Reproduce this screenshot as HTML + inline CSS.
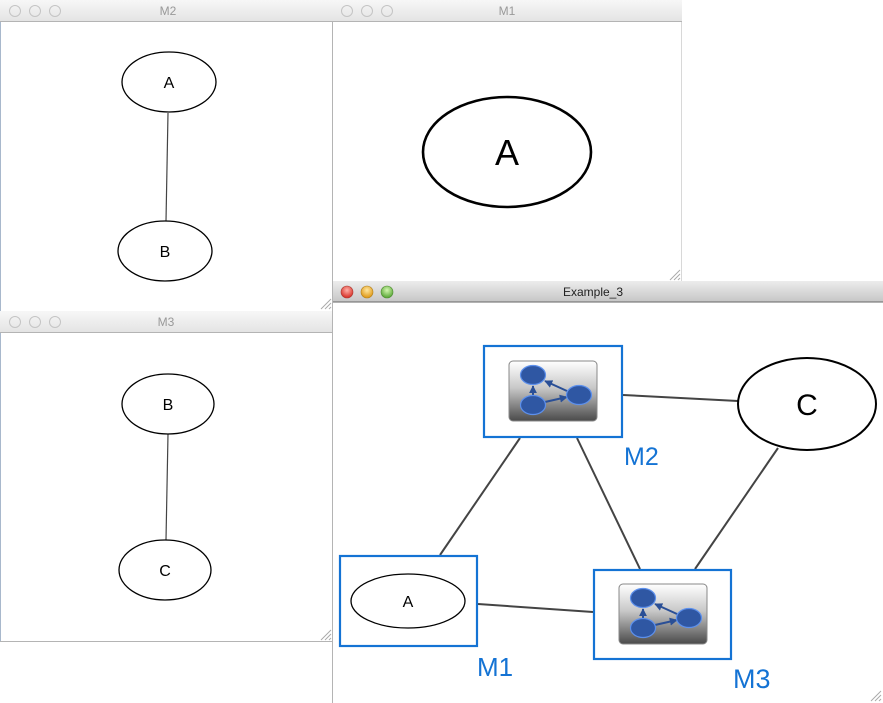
<!DOCTYPE html>
<html><head><meta charset="utf-8"><style>
html,body{margin:0;padding:0;background:#fff;}
svg{display:block;}
text{font-family:"Liberation Sans",sans-serif;}
</style></head><body>
<svg width="883" height="703" viewBox="0 0 883 703" xmlns="http://www.w3.org/2000/svg">
<defs>
<linearGradient id="tbi" x1="0" y1="0" x2="0" y2="1"><stop offset="0" stop-color="#f7f7f7"/><stop offset="1" stop-color="#e3e3e3"/></linearGradient>
<linearGradient id="tba" x1="0" y1="0" x2="0" y2="1"><stop offset="0" stop-color="#ececec"/><stop offset="1" stop-color="#c6c6c6"/></linearGradient>
<linearGradient id="ico" x1="0" y1="0" x2="0" y2="1"><stop offset="0" stop-color="#ffffff"/><stop offset="0.45" stop-color="#c8c8c8"/><stop offset="1" stop-color="#4a4a4a"/></linearGradient>
<radialGradient id="red" cx="0.5" cy="0.35" r="0.6"><stop offset="0" stop-color="#ffb0a8"/><stop offset="1" stop-color="#d8332a"/></radialGradient>
<radialGradient id="org" cx="0.5" cy="0.35" r="0.6"><stop offset="0" stop-color="#ffe7a0"/><stop offset="1" stop-color="#e09a1a"/></radialGradient>
<radialGradient id="grn" cx="0.5" cy="0.35" r="0.6"><stop offset="0" stop-color="#d4f7b0"/><stop offset="1" stop-color="#5ca93a"/></radialGradient>
<marker id="ah" viewBox="0 0 10 10" refX="9" refY="5" markerWidth="4" markerHeight="4" orient="auto"><path d="M0,0 L10,5 L0,10 z" fill="#2a4f96"/></marker>
<g id="icon">
<rect x="0" y="0" width="88" height="60" rx="4" fill="url(#ico)" stroke="#888" stroke-width="1"/>
<line x1="24" y1="34" x2="24" y2="25" stroke="#2a4f96" stroke-width="2" marker-end="url(#ah)"/>
<line x1="58" y1="30" x2="36" y2="20" stroke="#2a4f96" stroke-width="2" marker-end="url(#ah)"/>
<line x1="36" y1="41" x2="58" y2="36" stroke="#2a4f96" stroke-width="2" marker-end="url(#ah)"/>
<ellipse cx="24" cy="14" rx="12.5" ry="9.5" fill="#2f57a3" stroke="#5d90ec" stroke-width="1.2"/>
<ellipse cx="24" cy="44" rx="12.5" ry="9.5" fill="#2f57a3" stroke="#5d90ec" stroke-width="1.2"/>
<ellipse cx="70" cy="34" rx="12.5" ry="9.5" fill="#2f57a3" stroke="#5d90ec" stroke-width="1.2"/>
</g>
<g id="grip" stroke="#aaa" stroke-width="1">
<line x1="0" y1="10" x2="10" y2="0"/><line x1="4" y1="10" x2="10" y2="4"/><line x1="8" y1="10" x2="10" y2="8"/>
</g>
</defs>

<!-- M2 window -->
<rect x="0" y="0" width="333" height="22" fill="url(#tbi)"/>
<line x1="0" y1="21.5" x2="333" y2="21.5" stroke="#b4b4b4"/>
<g fill="none" stroke="#c4c4c4" stroke-width="1"><circle cx="15" cy="11" r="5.5"/><circle cx="35" cy="11" r="5.5"/><circle cx="55" cy="11" r="5.5"/></g>
<text x="168" y="15" font-size="12" fill="#999" text-anchor="middle">M2</text>
<line x1="332.5" y1="22" x2="332.5" y2="311" stroke="#b4b4b4"/>
<line x1="0.5" y1="22" x2="0.5" y2="311" stroke="#a8b8cc"/>
<use href="#grip" x="321" y="299"/>
<line x1="168" y1="113" x2="166" y2="221" stroke="#444" stroke-width="1.2"/>
<ellipse cx="169" cy="82" rx="47" ry="30" fill="#fff" stroke="#000" stroke-width="1.3"/>
<text x="169" y="88" font-size="16" text-anchor="middle">A</text>
<ellipse cx="165" cy="251" rx="47" ry="30" fill="#fff" stroke="#000" stroke-width="1.3"/>
<text x="165" y="257" font-size="16" text-anchor="middle">B</text>

<!-- M1 window -->
<rect x="333" y="0" width="349" height="22" fill="url(#tbi)"/>
<line x1="333" y1="21.5" x2="682" y2="21.5" stroke="#b4b4b4"/>
<g fill="none" stroke="#c4c4c4" stroke-width="1"><circle cx="347" cy="11" r="5.5"/><circle cx="367" cy="11" r="5.5"/><circle cx="387" cy="11" r="5.5"/></g>
<text x="507" y="15" font-size="12" fill="#999" text-anchor="middle">M1</text>
<line x1="681.5" y1="22" x2="681.5" y2="281" stroke="#d8d8d8"/>
<use href="#grip" x="670" y="270"/>
<ellipse cx="507" cy="152" rx="84" ry="55" fill="#fff" stroke="#000" stroke-width="2.6"/>
<text x="507" y="165" font-size="36" text-anchor="middle">A</text>

<!-- M3 window -->
<rect x="0" y="311" width="333" height="22" fill="url(#tbi)"/>
<line x1="0" y1="332.5" x2="333" y2="332.5" stroke="#b4b4b4"/>
<g fill="none" stroke="#c4c4c4" stroke-width="1"><circle cx="15" cy="322" r="5.5"/><circle cx="35" cy="322" r="5.5"/><circle cx="55" cy="322" r="5.5"/></g>
<text x="166" y="326" font-size="12" fill="#999" text-anchor="middle">M3</text>
<line x1="0" y1="641.5" x2="333" y2="641.5" stroke="#b4b4b4"/>
<line x1="0.5" y1="333" x2="0.5" y2="641" stroke="#a8b8cc"/>
<use href="#grip" x="321" y="630"/>
<line x1="168" y1="434" x2="166" y2="540" stroke="#444" stroke-width="1.2"/>
<ellipse cx="168" cy="404" rx="46" ry="30" fill="#fff" stroke="#000" stroke-width="1.3"/>
<text x="168" y="410" font-size="16" text-anchor="middle">B</text>
<ellipse cx="165" cy="570" rx="46" ry="30" fill="#fff" stroke="#000" stroke-width="1.3"/>
<text x="165" y="576" font-size="16" text-anchor="middle">C</text>

<!-- Example_3 window -->
<rect x="332" y="281" width="551" height="21" fill="url(#tba)"/>
<line x1="332" y1="302" x2="883" y2="302" stroke="#666" stroke-width="1"/>
<line x1="332.5" y1="281" x2="332.5" y2="703" stroke="#b4b4b4"/>
<circle cx="347" cy="292" r="6" fill="url(#red)" stroke="#a83a34" stroke-width="0.6"/>
<circle cx="367" cy="292" r="6" fill="url(#org)" stroke="#b0801e" stroke-width="0.6"/>
<circle cx="387" cy="292" r="6" fill="url(#grn)" stroke="#4d8a32" stroke-width="0.6"/>
<text x="593" y="296" font-size="12" fill="#222" text-anchor="middle">Example_3</text>
<use href="#grip" x="871" y="691"/>

<!-- edges -->
<g stroke="#444" stroke-width="2">
<line x1="623" y1="395" x2="738" y2="401"/>
<line x1="778" y1="448" x2="695" y2="569"/>
<line x1="520" y1="438" x2="440" y2="555"/>
<line x1="577" y1="438" x2="640" y2="569"/>
<line x1="478" y1="604" x2="593" y2="612"/>
</g>

<!-- M2 node -->
<rect x="484" y="346" width="138" height="91" fill="#fff" stroke="#1473d4" stroke-width="2.2"/>
<use href="#icon" x="509" y="361"/>
<text x="624" y="465" font-size="25" fill="#1473d4">M2</text>

<!-- C node -->
<ellipse cx="807" cy="404" rx="69" ry="46" fill="#fff" stroke="#000" stroke-width="2"/>
<text x="807" y="415" font-size="30" text-anchor="middle">C</text>

<!-- M1 node -->
<rect x="340" y="556" width="137" height="90" fill="#fff" stroke="#1473d4" stroke-width="2.2"/>
<ellipse cx="408" cy="601" rx="57" ry="27" fill="#fff" stroke="#000" stroke-width="1.3"/>
<text x="408" y="607" font-size="16" text-anchor="middle">A</text>
<text x="477" y="676" font-size="26" fill="#1473d4">M1</text>

<!-- M3 node -->
<rect x="594" y="570" width="137" height="89" fill="#fff" stroke="#1473d4" stroke-width="2.2"/>
<use href="#icon" x="619" y="584"/>
<text x="733" y="688" font-size="27" fill="#1473d4">M3</text>
</svg>
</body></html>
